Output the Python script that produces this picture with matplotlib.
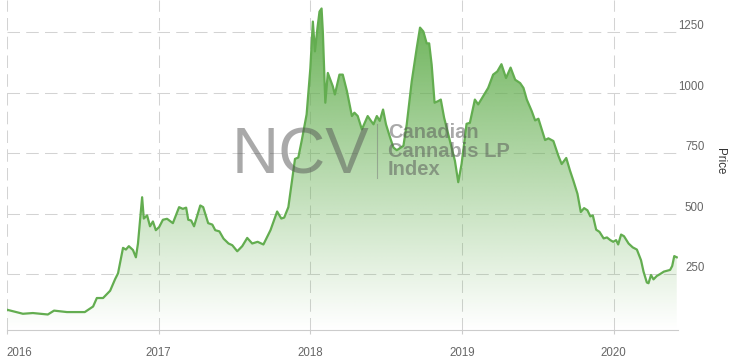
import numpy as np
import pandas as pd
import matplotlib
matplotlib.use("Agg")
import matplotlib.pyplot as plt
import matplotlib.dates as mdates
from matplotlib.colors import to_rgb
from matplotlib.lines import Line2D

plt.rcParams['font.family'] = ['Liberation Sans', 'DejaVu Sans']

# NCV index
dates = ['2016-01-01', '2016-02-09', '2016-03-04', '2016-04-09', '2016-04-24', '2016-05-25',
         '2016-07-07', '2016-07-27', '2016-08-05', '2016-08-20', '2016-09-06', '2016-09-18',
         '2016-09-25', '2016-10-07', '2016-10-14', '2016-10-21', '2016-10-31', '2016-11-07',
         '2016-11-12', '2016-11-22', '2016-11-26', '2016-12-04', '2016-12-11', '2016-12-18',
         '2016-12-25', '2017-01-02', '2017-01-11', '2017-01-21', '2017-02-04', '2017-02-19',
         '2017-02-28', '2017-03-08', '2017-03-13', '2017-03-20', '2017-03-27', '2017-04-11',
         '2017-04-18', '2017-04-30', '2017-05-10', '2017-05-17', '2017-05-27', '2017-06-06',
         '2017-06-18', '2017-06-27', '2017-07-09', '2017-07-21', '2017-08-02', '2017-08-14',
         '2017-08-27', '2017-09-10', '2017-09-27', '2017-10-13', '2017-10-23', '2017-10-30',
         '2017-11-09', '2017-11-18', '2017-11-25', '2017-12-03', '2017-12-11', '2017-12-23',
         '2018-01-01', '2018-01-07', '2018-01-12', '2018-01-18', '2018-01-23', '2018-01-28',
         '2018-01-31', '2018-02-06', '2018-02-12', '2018-02-24', '2018-03-01', '2018-03-12',
         '2018-03-20', '2018-03-30', '2018-04-11', '2018-04-17', '2018-04-25', '2018-05-05',
         '2018-05-19', '2018-05-27', '2018-06-02', '2018-06-10', '2018-06-17', '2018-06-25',
         '2018-07-02', '2018-07-12', '2018-07-20', '2018-07-28', '2018-08-13', '2018-08-21',
         '2018-09-02', '2018-09-14', '2018-09-22', '2018-09-30', '2018-10-08', '2018-10-14',
         '2018-10-20', '2018-10-27', '2018-11-05', '2018-11-11', '2018-11-19', '2018-12-03',
         '2018-12-15', '2018-12-23', '2018-12-31', '2019-01-04', '2019-01-12', '2019-01-20',
         '2019-02-01', '2019-02-09', '2019-02-21', '2019-03-05', '2019-03-17', '2019-03-27',
         '2019-04-06', '2019-04-17', '2019-04-28', '2019-05-09', '2019-05-21', '2019-05-29',
         '2019-06-06', '2019-06-18', '2019-06-26', '2019-07-04', '2019-07-12', '2019-07-20',
         '2019-07-28', '2019-08-09', '2019-08-21', '2019-08-29', '2019-09-09', '2019-09-18',
         '2019-09-26', '2019-10-06', '2019-10-14', '2019-10-22', '2019-10-30', '2019-11-06',
         '2019-11-12', '2019-11-20', '2019-11-28', '2019-12-08', '2019-12-16', '2019-12-24',
         '2019-12-31', '2020-01-07', '2020-01-12', '2020-01-19', '2020-01-26', '2020-02-06',
         '2020-02-16', '2020-02-26', '2020-03-07', '2020-03-13', '2020-03-21', '2020-03-25',
         '2020-03-31', '2020-04-06', '2020-04-14', '2020-04-22', '2020-05-01', '2020-05-16',
         '2020-05-21', '2020-05-26', '2020-06-01']
prices = [104, 87, 90, 84, 100, 94,
          94, 117, 152, 152, 182, 230,
          254, 359, 352, 366, 350, 320,
          377, 568, 480, 493, 448, 468,
          432, 445, 475, 479, 461, 527,
          520, 525, 475, 472, 448, 534,
          527, 461, 455, 432, 427, 397,
          377, 370, 345, 366, 400, 377,
          384, 373, 432, 509, 480, 484,
          527, 640, 726, 732, 800, 910,
          1101, 1293, 1170, 1265, 1334, 1347,
          1252, 958, 1081, 1026, 992, 1074,
          1074, 1006, 903, 917, 903, 848,
          903, 883, 869, 903, 883, 930,
          869, 814, 773, 762, 780, 869,
          1046, 1183, 1268, 1252, 1203, 1203,
          1115, 958, 965, 971, 896, 800,
          718, 630, 705, 760, 871, 875,
          971, 951, 985, 1019, 1074, 1087,
          1117, 1060, 1103, 1053, 1039, 1019,
          971, 923, 885, 892, 848, 804,
          811, 800, 739, 705, 730, 678,
          637, 582, 507, 523, 514, 489,
          493, 434, 425, 398, 402, 391,
          384, 391, 373, 414, 407, 377,
          361, 352, 308, 261, 216, 213,
          247, 229, 243, 251, 261, 268,
          284, 325, 320]

y_ticks = [250, 500, 750, 1000, 1250]
x_ticks = ['2016-01-01', '2017-01-01', '2018-01-01', '2019-01-01', '2020-01-01']
x_labels = ['2016', '2017', '2018', '2019', '2020']

x = pd.to_datetime(dates)
line_col = '#63ad50'
fill_col = '#64af50'
grid_col = '#d3d3d3'

fig = plt.figure(figsize=(7.33, 3.64), dpi=100)
ax = fig.add_axes([6.7 / 733, 1 - 330 / 364, (678 - 6.7) / 733, 330 / 364])

# area with vertical gradient
poly = ax.fill_between(x, prices, 0, facecolor='none', edgecolor='none')
rgb = to_rgb(fill_col)
grad = np.zeros((256, 2, 4))
grad[:, :, :3] = rgb
grad[:, :, 3] = np.linspace(1.0, 0.0, 256)[:, None] ** 1.05
im = ax.imshow(grad, extent=(0, 1, 0, 1), transform=ax.transAxes, aspect='auto',
               interpolation='bilinear', zorder=1)
im.set_clip_path(poly.get_paths()[0], ax.transData)

ax.plot(x, prices, color=line_col, lw=1.6, zorder=3, solid_joinstyle='round')

ax.set_xlim(pd.Timestamp('2016-01-01'), pd.Timestamp('2020-06-04'))
ax.set_ylim(20, 1382)

# grid
for v in y_ticks:
    ax.axhline(v, color=grid_col, lw=0.75, ls=(0, (12, 6)), zorder=0.5)
for d in x_ticks:
    ax.axvline(pd.Timestamp(d), color=grid_col, lw=0.75, ls=(0, (12, 6)), zorder=0.5)

ax.set_xticks(pd.to_datetime(x_ticks))
ax.set_xticklabels(x_labels)
ax.get_xticklabels()[0].set_ha('left')
ax.tick_params(axis='x', length=3, color='#cccccc', pad=9, labelsize=8.3, labelcolor='#666666')

ax.yaxis.tick_right()
ax.set_yticks(y_ticks)
ax.set_yticklabels([str(v) for v in y_ticks])
ax.tick_params(axis='y', length=0, pad=19, labelsize=8.3, labelcolor='#666666')
for lab in ax.get_yticklabels():
    lab.set_ha('right')
    lab.set_va('bottom')

ax.yaxis.set_label_position('right')
ax.set_ylabel('Price', rotation=270, fontsize=8.3, color='#333333')
ax.yaxis.label.set_va('center')
ax.yaxis.set_label_coords((720 - 6.7) / (678 - 6.7), (330 - 161) / 330)

for s in ['left', 'right', 'top']:
    ax.spines[s].set_visible(False)
ax.spines['bottom'].set_color('#cccccc')
ax.spines['bottom'].set_linewidth(0.8)

# watermark
fig.text(232 / 733, 1 - 173 / 364, 'NCV', fontsize=47, color='#555555', alpha=0.5,
         ha='left', va='baseline', zorder=5)
fig.add_artist(Line2D([377 / 733, 377 / 733], [1 - 124 / 364, 1 - 178 / 364],
                      color='#777777', alpha=0.5, lw=0.8))
for txt, base in [('Canadian', 138), ('Cannabis LP', 157), ('Index', 175)]:
    fig.text(388 / 733, 1 - base / 364, txt, fontsize=14.5, fontweight='bold',
             color='#555555', alpha=0.5, ha='left', va='baseline', zorder=5)

fig.savefig('out.png', dpi=100)
